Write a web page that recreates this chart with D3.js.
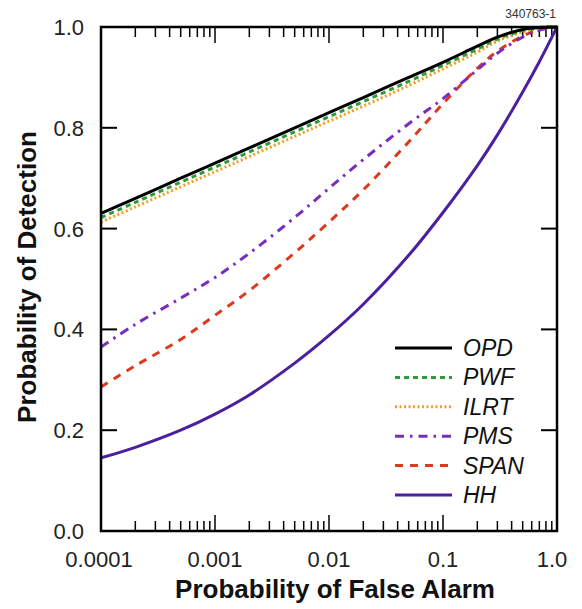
<!DOCTYPE html>
<html><head><meta charset="utf-8">
<script src="https://cdn.jsdelivr.net/npm/d3@7"></script>
<style>body{margin:0;background:#fff}svg{display:block}text{font-family:"Liberation Sans",Arial,Helvetica,sans-serif}</style>
</head><body><div id="chart"></div>
<script>
const pfa = [0.0001,0.0002,0.0005,0.001,0.002,0.005,0.01,0.02,0.05,0.1,0.2,0.3,0.5,0.7,1.0];
const opd  = [0.630,0.660,0.700,0.730,0.760,0.800,0.830,0.860,0.900,0.930,0.962,0.980,0.995,0.999,1.0];
const pwf  = [0.622,0.652,0.692,0.722,0.752,0.792,0.822,0.852,0.892,0.924,0.956,0.976,0.993,0.999,1.0];
const ilrt = [0.613,0.643,0.683,0.713,0.743,0.783,0.813,0.843,0.884,0.917,0.950,0.972,0.990,0.998,1.0];
const pms  = [0.365,0.410,0.462,0.503,0.551,0.622,0.680,0.737,0.808,0.858,0.915,0.948,0.980,0.994,1.0];
const span = [0.286,0.328,0.380,0.428,0.477,0.552,0.613,0.677,0.772,0.848,0.918,0.952,0.982,0.995,1.0];
const hh   = [0.145,0.166,0.200,0.232,0.270,0.333,0.388,0.450,0.547,0.632,0.725,0.786,0.871,0.931,1.0];
const seriesNames = ["OPD","PWF","ILRT","PMS","SPAN","HH"];
const xTickLabels = ["0.0001","0.001","0.01","0.1","1.0"];
const yTickLabels = ["0.0","0.2","0.4","0.6","0.8","1.0"];

const styles = {
  OPD:{color:"#000000",dash:null,w:3},
  PWF:{color:"#2e9a3a",dash:"5,4",w:3},
  ILRT:{color:"#f0a020",dash:"2,2.5",w:3},
  PMS:{color:"#7a2cbf",dash:"9,6,2.5,6",w:3},
  SPAN:{color:"#dc3a1e",dash:"8,7",w:3},
  HH:{color:"#4a20a0",dash:null,w:3}
};
const data = {OPD:opd,PWF:pwf,ILRT:ilrt,PMS:pms,SPAN:span,HH:hh};

const W=582,H=609, L=101,R=557,T=27,B=531;
const svg=d3.select("#chart").append("svg").attr("width",W).attr("height",H);
const x=d3.scaleLog().domain([0.0001,1]).range([L,R]);
const y=d3.scaleLinear().domain([0,1]).range([B,T]);

const decades=[0.0001,0.001,0.01,0.1,1];
const minors=[];
decades.slice(0,4).forEach(d=>{for(let k=2;k<=9;k++)minors.push(d*k);});
const g=svg.append("g");
function tick(xv,len){
  g.append("line").attr("x1",x(xv)).attr("x2",x(xv)).attr("y1",B).attr("y2",B-len).attr("stroke","#000").attr("stroke-width",1.5);
  g.append("line").attr("x1",x(xv)).attr("x2",x(xv)).attr("y1",T).attr("y2",T+len).attr("stroke","#000").attr("stroke-width",1.5);
}
minors.forEach(v=>tick(v,10));
decades.forEach(v=>tick(v,16));
yTickLabels.forEach(t=>{
  const v=+t;
  g.append("line").attr("x1",L).attr("x2",L+16).attr("y1",y(v)).attr("y2",y(v)).attr("stroke","#000").attr("stroke-width",2);
  g.append("line").attr("x1",R).attr("x2",R-16).attr("y1",y(v)).attr("y2",y(v)).attr("stroke","#000").attr("stroke-width",2);
  g.append("text").attr("x",L-17).attr("y",y(v)+8).attr("text-anchor","end").attr("font-size",22).attr("fill","#222").text(t);
});
xTickLabels.forEach((t,i)=>{
  g.append("text").attr("x",x(decades[i])-(i==4?5:(i==0?2:0))).attr("y",567).attr("text-anchor","middle").attr("font-size",22).attr("fill","#222").text(t);
});

const line=d3.line().x((d,i)=>x(pfa[i])).y(d=>y(d)).curve(d3.curveCatmullRom.alpha(0.5));
svg.append("clipPath").attr("id","clip").append("rect").attr("x",L).attr("y",T-2).attr("width",R-L).attr("height",B-T+2);
["HH","SPAN","PMS","ILRT","PWF","OPD"].forEach(n=>{
  const s=styles[n];
  svg.append("path").attr("d",line(data[n])).attr("fill","none").attr("stroke",s.color)
    .attr("stroke-width",s.w).attr("stroke-dasharray",s.dash).attr("clip-path","url(#clip)");
});

svg.append("rect").attr("x",L).attr("y",T).attr("width",R-L).attr("height",B-T).attr("fill","none").attr("stroke","#000").attr("stroke-width",2.5);

seriesNames.forEach((n,i)=>{
  const yy=348+i*29.4;
  const s=styles[n];
  svg.append("line").attr("x1",395).attr("x2",452).attr("y1",yy).attr("y2",yy).attr("stroke",s.color).attr("stroke-width",s.w).attr("stroke-dasharray",s.dash);
  svg.append("text").attr("x",463).attr("y",yy+8).attr("font-size",23).attr("font-style","italic").attr("fill","#111").text(n);
});

svg.append("text").attr("x",335).attr("y",598).attr("text-anchor","middle").attr("font-size",26).attr("font-weight","bold").attr("fill","#111").text("Probability of False Alarm");
svg.append("text").attr("transform","translate(36,277) rotate(-90)").attr("text-anchor","middle").attr("font-size",26).attr("font-weight","bold").attr("fill","#111").text("Probability of Detection");
svg.append("text").attr("x",556).attr("y",18).attr("text-anchor","end").attr("font-size",12).attr("fill","#333").text("340763-1");
</script></body></html>
